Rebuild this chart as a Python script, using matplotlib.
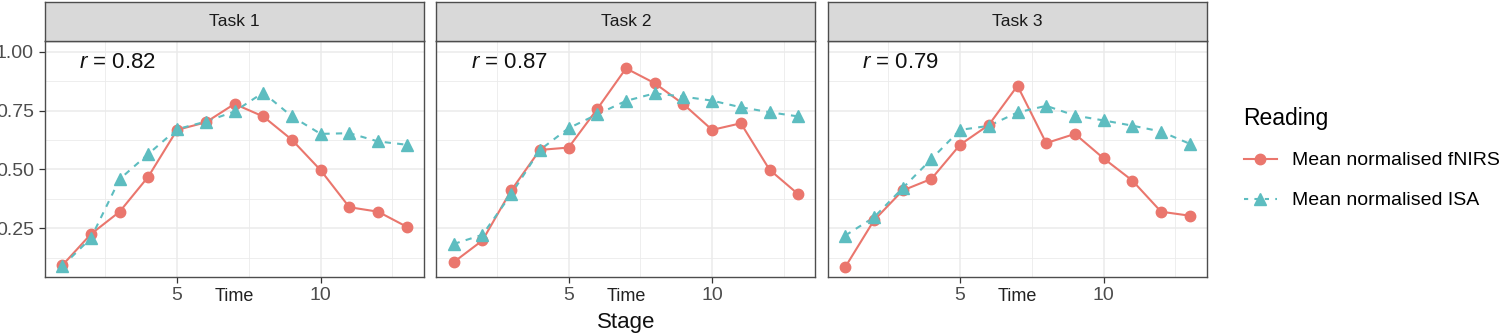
import matplotlib
matplotlib.use("Agg")
import matplotlib.pyplot as plt
from matplotlib.lines import Line2D
from matplotlib.ticker import FixedLocator
import matplotlib.transforms as mtransforms

plt.rcParams["font.family"] = ["Liberation Sans", "DejaVu Sans"]
plt.rcParams["mathtext.fontset"] = "custom"
plt.rcParams["mathtext.it"] = "Liberation Sans:italic"
plt.rcParams["mathtext.rm"] = "Liberation Sans"

# data
stages = list(range(1, 14))
tasks = ["Task 1", "Task 2", "Task 3"]
r_values = ["0.82", "0.87", "0.79"]

fnirs_task1 = [0.093, 0.226, 0.321, 0.470, 0.668, 0.700, 0.778, 0.725, 0.626, 0.497, 0.340, 0.321, 0.257]
isa_task1 = [0.090, 0.209, 0.459, 0.566, 0.671, 0.703, 0.746, 0.826, 0.725, 0.651, 0.654, 0.619, 0.605]

fnirs_task2 = [0.107, 0.199, 0.411, 0.583, 0.593, 0.757, 0.929, 0.866, 0.777, 0.668, 0.696, 0.499, 0.395]
isa_task2 = [0.184, 0.223, 0.395, 0.583, 0.675, 0.734, 0.791, 0.823, 0.809, 0.792, 0.764, 0.743, 0.725]

fnirs_task3 = [0.086, 0.284, 0.411, 0.460, 0.605, 0.689, 0.855, 0.612, 0.651, 0.547, 0.453, 0.321, 0.304]
isa_task3 = [0.220, 0.297, 0.421, 0.544, 0.668, 0.685, 0.742, 0.770, 0.729, 0.708, 0.686, 0.661, 0.609]

fnirs = [fnirs_task1, fnirs_task2, fnirs_task3]
isa = [isa_task1, isa_task2, isa_task3]

red = "#EA766D"
teal = "#5DBDC0"
grid_col = "#EBEBEB"
border_col = "#4D4D4D"

W, H = 1501, 333
fig = plt.figure(figsize=(W / 100, H / 100), dpi=100)

lefts = [45, 436.5, 828]
pw = 379
top_px, bot_px, strip_top = 41, 277, 2

for i, left in enumerate(lefts):
    ax = fig.add_axes([left / W, 1 - bot_px / H, pw / W, (bot_px - top_px) / H])
    ax.set_xlim(0.4, 13.6)
    ax.set_ylim(0.044, 1.045)
    ax.xaxis.set_major_locator(FixedLocator([5, 10]))
    ax.xaxis.set_minor_locator(FixedLocator([2.5, 7.5, 12.5]))
    ax.yaxis.set_major_locator(FixedLocator([0.25, 0.5, 0.75, 1.0]))
    ax.yaxis.set_minor_locator(FixedLocator([0.125, 0.375, 0.625, 0.875]))
    ax.grid(True, which="major", color=grid_col, lw=1.1, zorder=0)
    ax.grid(True, which="minor", color=grid_col, lw=0.6, zorder=0)
    ax.set_axisbelow(True)
    for s in ax.spines.values():
        s.set_color(border_col)
        s.set_linewidth(1.0)
    ax.tick_params(which="minor", length=0)
    ax.tick_params(axis="x", which="major", length=4, width=0.9, color="#333333",
                   labelsize=14, labelcolor="#4D4D4D", pad=3.5)
    if i == 0:
        ax.tick_params(axis="y", which="major", length=4, width=0.9, color="#333333",
                       labelsize=14, labelcolor="#4D4D4D", pad=4)
        ax.set_yticklabels(["0.25", "0.50", "0.75", "1.00"])
    else:
        ax.tick_params(axis="y", which="major", length=0, labelleft=False)

    ax.plot(stages, fnirs[i], color=red, lw=1.5, zorder=2)
    ax.plot(stages, isa[i], color=teal, lw=1.5, ls=(0, (3, 3)), zorder=2)
    ax.plot(stages, fnirs[i], ls="none", marker="o", ms=7.5, color=red, zorder=3)
    ax.plot(stages, isa[i], ls="none", marker="^", ms=8.5, color=teal, zorder=4)

    ax.text(1.6, 0.955, r"$r$ = " + r_values[i], fontsize=16, va="center", ha="left",
            color="#111111")

    trans = mtransforms.blended_transform_factory(ax.transData, ax.transAxes)
    ax.text(7, -0.045, "Time", transform=trans, ha="center", va="top", fontsize=13,
            color="#222222", clip_on=False)

    sax = fig.add_axes([left / W, 1 - top_px / H, pw / W, (top_px - strip_top) / H])
    sax.set_facecolor("#D9D9D9")
    sax.set_xticks([])
    sax.set_yticks([])
    for s in sax.spines.values():
        s.set_color(border_col)
        s.set_linewidth(1.0)
    sax.text(0.5, 0.5, tasks[i], ha="center", va="center", fontsize=12.5,
             color="#1A1A1A", transform=sax.transAxes)

fig.text((lefts[1] + pw / 2) / W, 1 - 312 / H, "Stage", ha="center", va="top",
         fontsize=16, color="#111111")

handles = [
    Line2D([], [], color=red, lw=1.5, marker="o", ms=7.5),
    Line2D([], [], color=teal, lw=1.5, ls=(0, (2, 3)), marker="^", ms=8.5),
]
fig.legend(handles, ["Mean normalised fNIRS", "Mean normalised ISA"],
           title="Reading", loc="upper left", bbox_to_anchor=(1226 / W, 1 - 89 / H),
           frameon=False, fontsize=14, title_fontsize=16.5, handlelength=1.7,
           handletextpad=0.77, labelspacing=1.15, alignment="left")

fig.savefig("out.png", dpi=100)
